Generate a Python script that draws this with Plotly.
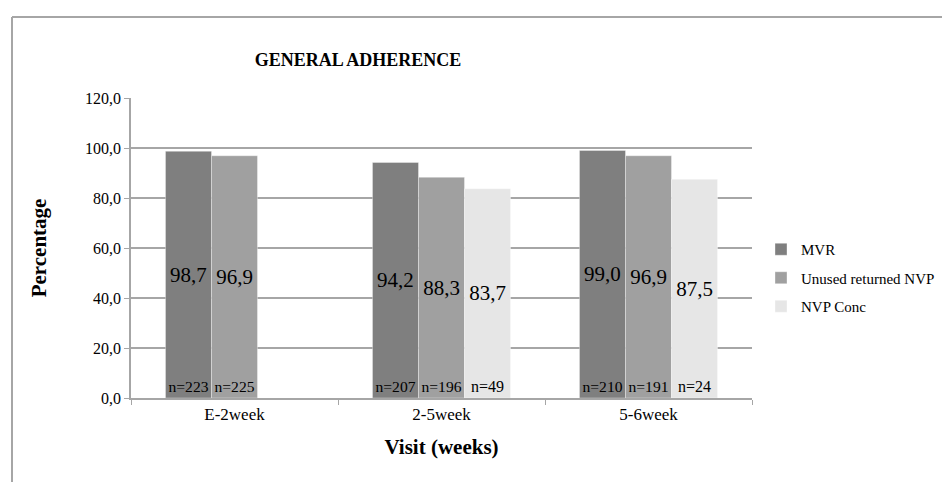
import plotly.graph_objects as go

categories = ["E-2week", "2-5week", "5-6week"]
series_names = ["MVR", "Unused returned NVP", "NVP Conc"]
mvr = [98.7, 94.2, 99.0]
unused = [96.9, 88.3, 96.9]
nvp_conc = [None, 83.7, 87.5]
n_mvr = ["n=223", "n=207", "n=210"]
n_unused = ["n=225", "n=196", "n=191"]
n_nvp = ["", "n=49", "n=24"]
y_ticks = [0, 20, 40, 60, 80, 100, 120]

colors = ["#7f7f7f", "#a0a0a0", "#e6e6e6"]
values = [mvr, unused, nvp_conc]
ns = [n_mvr, n_unused, n_nvp]
FONT = "Liberation Serif"

fig = go.Figure()
for i in range(3):
    fig.add_trace(go.Bar(
        x=categories, y=values[i], name=series_names[i],
        marker=dict(color=colors[i], line=dict(color="rgba(255,255,255,0.35)", width=1)),
        text=ns[i], textposition="inside", insidetextanchor="start", textangle=0,
        textfont=dict(family=FONT, size=16, color="black"),
        legendgroup=series_names[i], xaxis="x", yaxis="y",
    ))
for i in range(3):
    fig.add_trace(go.Bar(
        x=categories, y=values[i], name=series_names[i],
        marker=dict(color="rgba(0,0,0,0)", line=dict(width=0)),
        text=[("" if v is None else f"{v:.1f}".replace(".", ",")) for v in values[i]],
        textposition="inside", insidetextanchor="middle", textangle=0,
        textfont=dict(family=FONT, size=21, color="black"),
        showlegend=False, xaxis="x2", yaxis="y", hoverinfo="skip",
    ))

L, R, T, B = 123, 206, 90, 92
W = 950 - L - R
H = 482 - T - B

fig.update_layout(
    width=950, height=482,
    margin=dict(l=L, r=R, t=T, b=B),
    paper_bgcolor="white", plot_bgcolor="white",
    barmode="group", bargap=0.333, bargroupgap=0,
    separators=",.",
    font=dict(family=FONT, color="black"),
    title=dict(text="<b>GENERAL ADHERENCE</b>", x=350 / 950, xanchor="center",
               y=1 - 52 / 482, yanchor="middle", font=dict(size=18, family=FONT)),
    xaxis=dict(categoryorder="array", categoryarray=categories,
               showline=True, linecolor="#a6a6a6", linewidth=1.5,
               ticks="outside", tickson="boundaries", ticklen=5, tickcolor="#a6a6a6",
               tickfont=dict(size=17, family=FONT),
               title=dict(text="<b>Visit (weeks)</b>", font=dict(size=21, family=FONT), standoff=16)),
    xaxis2=dict(overlaying="x", categoryorder="array", categoryarray=categories,
                visible=False, matches="x"),
    yaxis=dict(range=[0, 120], tickvals=y_ticks, tickformat=".1f",
               showgrid=True, gridcolor="#a6a6a6", gridwidth=1.5,
               showline=True, linecolor="#a6a6a6", linewidth=1.5,
               ticks="outside", ticklen=5, tickcolor="#a6a6a6",
               tickfont=dict(size=16, family=FONT), zeroline=False,
               title=dict(text="<b>Percentage</b>", font=dict(size=21, family=FONT), standoff=33)),
    legend=dict(x=(753 - L) / W, xanchor="left", y=(390 - 270) / H, yanchor="middle",
                font=dict(size=15, family=FONT), tracegroupgap=6, bgcolor="rgba(0,0,0,0)"),
    showlegend=True,
)

# chart-area border (left and top edges visible in the crop)
fig.add_shape(type="line", xref="paper", yref="paper",
              x0=(4 - L) / W, x1=(4 - L) / W, y0=(390 - 9) / H, y1=(390 - 490) / H,
              line=dict(color="#a6a6a6", width=2))
fig.add_shape(type="line", xref="paper", yref="paper",
              x0=(4 - L) / W, x1=(960 - L) / W, y0=(390 - 9) / H, y1=(390 - 9) / H,
              line=dict(color="#a6a6a6", width=2))

fig.write_html("out.html")
